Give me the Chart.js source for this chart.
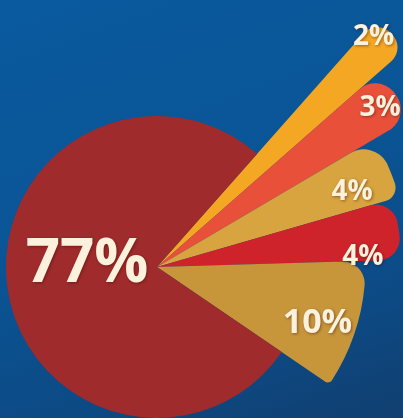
<!DOCTYPE html>
<html>
<head>
<meta charset="utf-8">
<script src="https://cdn.jsdelivr.net/npm/chart.js@4.4.1/dist/chart.umd.min.js"></script>
<style>
    html, body { margin: 0; padding: 0; }
    body {
        width: 403px;
        height: 418px;
        overflow: hidden;
        background: linear-gradient(160deg, #0a5a9f 0%, #0a5596 45%, #0c4b86 75%, #113f70 100%);
    }
    #wrap { position: relative; width: 403px; height: 418px; }
</style>
</head>
<body>
<div id="wrap"><canvas id="pie-chart"></canvas></div>
<script>
// Datos del gráfico (en el orden de dibujo, en sentido horario desde arriba)
const labels = ['2%', '3%', '4%', '4%', '10%', '77%'];
const shares = [2, 3, 4, 4, 10, 77];

// Estilo de cada porción
const colors = ['#f4a722', '#e8503a', '#d8a43f', '#cf232b', '#c7963b', '#a02b2c'];
const reach = [2.19, 1.95, 1.67, 1.62, 1.38, 1];          // alargamiento relativo del radio
const roundStart = [40, 40, 26, 22, 22, 0];
const roundEnd = [40, 40, 14, 22, 5, 0];
const labelDist = [316, 274, 209, 206, 170, 70];           // distancia del texto al centro
const labelTurn = [-1.8, 0.4, 2.3, 6.1, 3, 8.7];           // giro del texto (grados)
const labelSize = [28, 28, 28, 28, 34, 60];

const textColor = '#fbf1dc';

// Alarga cada porción después de calcular el gráfico
const stretchPlugin = {
    id: 'stretch',
    afterDatasetsUpdate(chart) {
        const meta = chart.getDatasetMeta(0);
        meta.data.forEach((arc, i) => {
            arc.outerRadius = arc.outerRadius * reach[i];
        });
    }
};

// Etiquetas de porcentaje
const labelPlugin = {
    id: 'pctLabels',
    afterDatasetsDraw(chart) {
        const ctx = chart.ctx;
        const meta = chart.getDatasetMeta(0);
        ctx.save();
        ctx.textAlign = 'center';
        ctx.textBaseline = 'middle';
        ctx.fillStyle = textColor;
        ctx.shadowColor = 'rgba(60, 10, 0, 0.45)';
        ctx.shadowBlur = 3;
        ctx.shadowOffsetX = 1;
        ctx.shadowOffsetY = 1;
        meta.data.forEach((arc, i) => {
            const mid = (arc.startAngle + arc.endAngle) / 2 + labelTurn[i] * Math.PI / 180;
            const x = arc.x + Math.cos(mid) * labelDist[i];
            const y = arc.y + Math.sin(mid) * labelDist[i];
            ctx.font = 'bold ' + labelSize[i] + 'px "Open Sans", "DejaVu Sans", sans-serif';
            ctx.fillText(labels[i], x, y);
        });
        ctx.restore();
    }
};

const pieCtx = document.getElementById('pie-chart').getContext('2d');
const pieChart = new Chart(pieCtx, {
    type: 'pie',
    data: {
        labels: labels,
        datasets: [{
            data: shares,
            backgroundColor: colors,
            borderWidth: 0,
            hoverOffset: 0,
            clip: false,
            borderRadius: function(context) {
                const i = context.dataIndex;
                return { outerStart: roundStart[i], outerEnd: roundEnd[i], innerStart: 0, innerEnd: 0 };
            }
        }]
    },
    options: {
        responsive: true,
        maintainAspectRatio: false,
        animation: false,
        events: [],
        rotation: 41.5,
        layout: {
            padding: { left: 6, right: 95, top: 116, bottom: 0 }
        },
        plugins: {
            legend: { display: false },
            tooltip: { enabled: false }
        }
    },
    plugins: [stretchPlugin, labelPlugin]
});
</script>
</body>
</html>
